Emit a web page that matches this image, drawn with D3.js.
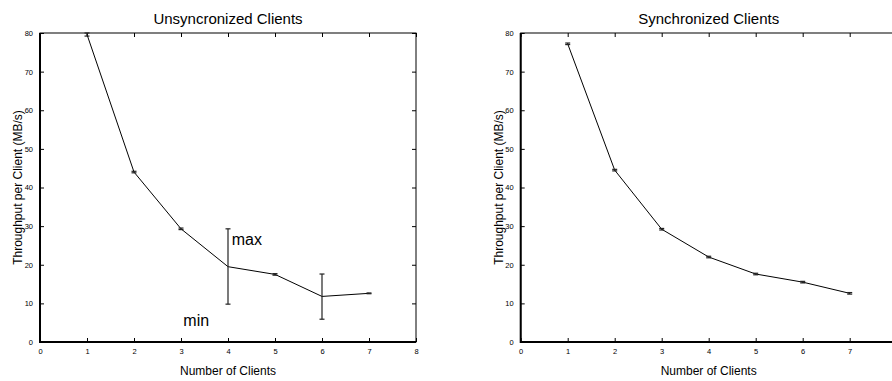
<!DOCTYPE html>
<html>
<head>
<meta charset="utf-8">
<script src="https://cdn.jsdelivr.net/npm/d3@7"></script>
<style>
body { margin: 0; background: #fff; }
text { font-family: "Liberation Sans Narrow", "Liberation Sans", Arial, sans-serif; fill: #000; }
</style>
</head>
<body>
<svg id="viz"></svg>
<script>
const clients = [1, 2, 3, 4, 5, 6, 7]
const xTicks = [0, 1, 2, 3, 4, 5, 6, 7, 8]
const yTicks = [0, 10, 20, 30, 40, 50, 60, 70, 80]

// unsynchronized: mean, min, max
const unsyncMean = [79.6, 44.0, 29.3, 19.5, 17.5, 11.8, 12.6]
const unsyncMin = [79.2, 43.8, 29.1, 9.8, 17.3, 5.9, 12.5]
const unsyncMax = [80.0, 44.2, 29.5, 29.3, 17.7, 17.6, 12.7]

// synchronized
const syncMean = [77.2, 44.5, 29.2, 22.0, 17.6, 15.5, 12.6]
const syncMin = [77.0, 44.3, 29.0, 21.8, 17.4, 15.3, 12.4]
const syncMax = [77.4, 44.7, 29.4, 22.2, 17.8, 15.7, 12.8]

var width = 892,
    height = 381

var svg = d3.select("#viz")
    .attr("width", width)
    .attr("height", height)

var drawPanel = (left, title, mean, mn, mx, notes, xLabels) => {
    let top = 33, bottom = 342
    let x = d3.scaleLinear().domain([0, 8]).range([left, left + 376])
    let y = d3.scaleLinear().domain([0, 80]).range([bottom, top])
    let g = svg.append("g")

    // ticks
    g.append("g").attr("transform", `translate(0,${bottom})`)
        .call(d3.axisBottom(x).tickValues(xTicks).tickSizeInner(-4).tickSizeOuter(0).tickPadding(7)
            .tickFormat(d => xLabels.includes(d) ? d : ""))
    g.append("g").attr("transform", `translate(0,${top})`)
        .call(d3.axisTop(x).tickValues(xTicks).tickSizeInner(-4).tickSizeOuter(0).tickFormat(""))
    g.append("g").attr("transform", `translate(${left},0)`)
        .call(d3.axisLeft(y).tickValues(yTicks).tickSizeInner(-4).tickSizeOuter(0).tickPadding(7))
    g.append("g").attr("transform", `translate(${left + 376},0)`)
        .call(d3.axisRight(y).tickValues(yTicks).tickSizeInner(-4).tickSizeOuter(0).tickFormat(""))
    g.selectAll(".domain").remove()
    g.selectAll(".tick line").attr("stroke", "#000")
    g.selectAll(".tick text").attr("font-size", 7.5).attr("fill", "#222")
        .style("font-family", "'Liberation Sans', Arial, sans-serif")

    // box
    g.append("rect").attr("x", left).attr("y", top)
        .attr("width", 376).attr("height", bottom - top)
        .attr("fill", "none").attr("stroke", "#000").attr("stroke-width", 1)
    g.append("line").attr("x1", left).attr("x2", left).attr("y1", top).attr("y2", bottom + 1)
        .attr("stroke", "#000").attr("stroke-width", 2)
    g.append("line").attr("x1", left).attr("x2", left + 376).attr("y1", bottom).attr("y2", bottom)
        .attr("stroke", "#000").attr("stroke-width", 2)

    // line
    let line = d3.line().x((d, i) => x(clients[i])).y(d => y(d))
    g.append("path").datum(mean).attr("d", line)
        .attr("fill", "none").attr("stroke", "#000").attr("stroke-width", 1)

    // error bars
    let eb = g.selectAll(".eb").data(clients).join("g").attr("class", "eb")
        .attr("stroke", "#222").attr("stroke-width", 1.2)
    eb.append("line").attr("x1", d => x(d)).attr("x2", d => x(d))
        .attr("y1", (d, i) => y(mn[i])).attr("y2", (d, i) => y(mx[i]))
    eb.append("line").attr("x1", d => x(d) - 2.5).attr("x2", d => x(d) + 2.5)
        .attr("y1", (d, i) => y(mn[i])).attr("y2", (d, i) => y(mn[i]))
    eb.append("line").attr("x1", d => x(d) - 2.5).attr("x2", d => x(d) + 2.5)
        .attr("y1", (d, i) => y(mx[i])).attr("y2", (d, i) => y(mx[i]))

    // titles
    g.append("text").attr("x", x(4)).attr("y", 24).attr("text-anchor", "middle")
        .attr("font-size", 15).text(title)
    g.append("text").attr("x", x(4)).attr("y", 375).attr("text-anchor", "middle")
        .attr("font-size", 12).text("Number of Clients")
    g.append("text").attr("transform", `translate(${left - 18},${(top + bottom) / 2}) rotate(-90)`)
        .attr("text-anchor", "middle").attr("font-size", 12).text("Throughput per Client (MB/s)")

    notes.forEach(n => {
        g.append("text").attr("x", x(n.x)).attr("y", y(n.y))
            .attr("font-size", 16).style("font-family", "'Liberation Sans', Arial, sans-serif")
            .text(n.t)
    })
}

drawPanel(40, "Unsyncronized Clients", unsyncMean, unsyncMin, unsyncMax,
    [{ x: 4.08, y: 25, t: "max" }, { x: 3.05, y: 4.2, t: "min" }], xTicks)
// right panel is cut by the window edge, its "8" is not shown
drawPanel(520.7, "Synchronized Clients", syncMean, syncMin, syncMax, [], xTicks.slice(0, 8))
</script>
</body>
</html>
